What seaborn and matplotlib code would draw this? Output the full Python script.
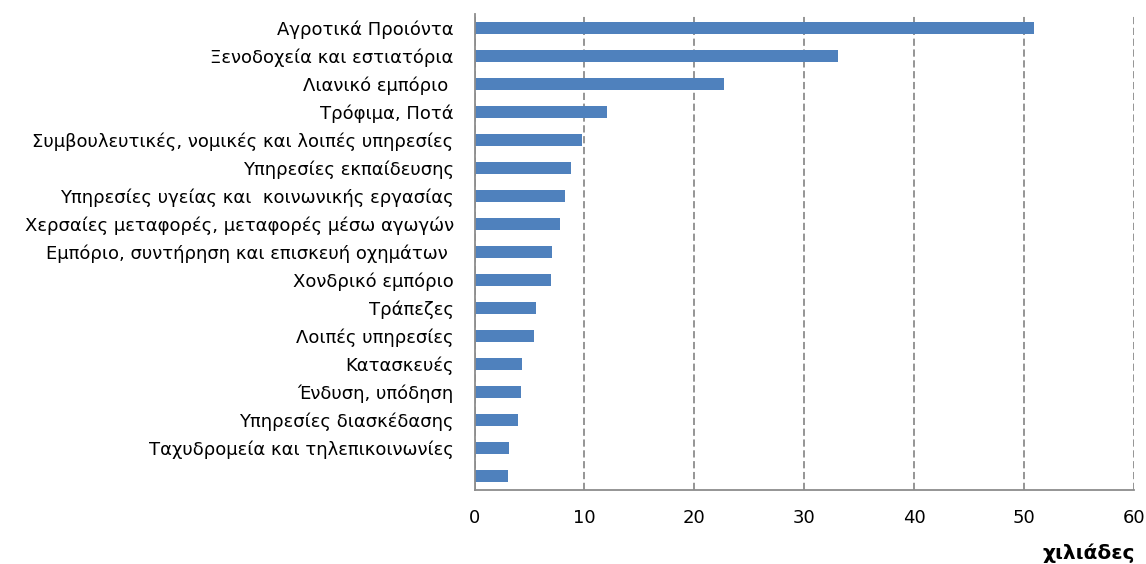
import matplotlib
matplotlib.use("Agg")
import matplotlib.pyplot as plt
import seaborn as sns
import pandas as pd

categories = [
    "Αγροτικά Προιόντα",
    "Ξενοδοχεία και εστιατόρια",
    "Λιανικό εμπόριο ",
    "Τρόφιμα, Ποτά",
    "Συμβουλευτικές, νομικές και λοιπές υπηρεσίες",
    "Υπηρεσίες εκπαίδευσης",
    "Υπηρεσίες υγείας και  κοινωνικής εργασίας",
    "Χερσαίες μεταφορές, μεταφορές μέσω αγωγών",
    "Εμπόριο, συντήρηση και επισκευή οχημάτων ",
    "Χονδρικό εμπόριο",
    "Τράπεζες",
    "Λοιπές υπηρεσίες",
    "Κατασκευές",
    "Ένδυση, υπόδηση",
    "Υπηρεσίες διασκέδασης",
    "Ταχυδρομεία και τηλεπικοινωνίες",
    "",
]
values = [50.9, 33.1, 22.7, 12.1, 9.8, 8.8, 8.2, 7.8, 7.05, 7.0, 5.55, 5.45, 4.3, 4.23, 3.98, 3.1, 3.07]
xticks = [0, 10, 20, 30, 40, 50, 60]
unit_label = "χιλιάδες"

sns.set_theme(style="white")
plt.rcParams["font.family"] = ["DejaVu Sans"]

df = pd.DataFrame({"pos": [str(i) for i in range(len(values))], "value": values})

fig = plt.figure(figsize=(11.46, 5.64), dpi=100)
ax = fig.add_axes([474.5 / 1146, 1 - 490 / 564, (1134 - 474.5) / 1146, (490 - 14) / 564])

sns.barplot(data=df, x="value", y="pos", orient="h", color="#4F81BD",
            saturation=1, width=0.43, ax=ax, linewidth=0)

ax.set_xlim(0, 60)
ax.set_ylim(len(values) - 0.5, -0.5)
ax.set_xticks(xticks)
ax.set_xticklabels([str(t) for t in xticks], fontsize=13, color="black")
ax.set_yticks(range(len(values)))
ax.set_yticklabels(categories, fontsize=13, color="black")
ax.tick_params(axis="y", length=0, pad=15)
ax.tick_params(axis="x", length=0, pad=14)
ax.set_xlabel("")
ax.set_ylabel("")

ax.xaxis.grid(True, color="#8c8c8c", linestyle=(0, (4, 2)), linewidth=1.3)
ax.yaxis.grid(False)
ax.set_axisbelow(True)
for side in ["top", "right"]:
    ax.spines[side].set_visible(False)
for side in ["left", "bottom"]:
    ax.spines[side].set_visible(True)
    ax.spines[side].set_color("#8c8c8c")
    ax.spines[side].set_linewidth(1.3)

fig.text(1089 / 1146, 1 - 553 / 564, unit_label, fontsize=14.5, fontweight="bold",
         ha="center", va="center", color="black")

fig.savefig("out.png", dpi=100, facecolor="white")
